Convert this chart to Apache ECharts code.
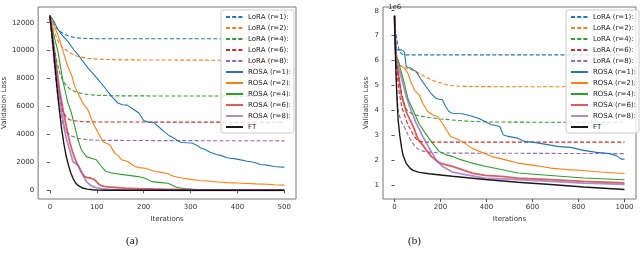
<!DOCTYPE html>
<html><head><meta charset="utf-8">
<script src="https://cdn.jsdelivr.net/npm/echarts@6/dist/echarts.min.js"></script>
<style>html,body{margin:0;padding:0;background:#fff}#c{width:640px;height:255px}</style>
</head><body><div id="c"></div>
<script>
// ---------- Panel (a) : iterations / validation loss ----------
const a_names = ["LoRA (r=1):","LoRA (r=2):","LoRA (r=4):","LoRA (r=6):","LoRA (r=8):","ROSA (r=1):","ROSA (r=2):","ROSA (r=4):","ROSA (r=6):","ROSA (r=8):","FT"];
const a_xTicks = [0,100,200,300,400,500];
const a_yTicks = [0,2000,4000,6000,8000,10000,12000];

const a_lora1_x = [0,5,10,15,20,30,40,50,60,80,100,150,200,300,400,500];
const a_lora1_y = [12500,12150,11850,11600,11420,11180,11040,10960,10910,10870,10855,10850,10850,10850,10850,10850];
const a_lora2_x = [0,5,10,17,25,38,50,60,80,100,150,300,500];
const a_lora2_y = [12500,11900,11300,10700,10300,9960,9700,9580,9450,9390,9340,9320,9300];
const a_lora4_x = [0,5,10,15,20,28,35,45,60,80,100,150,500];
const a_lora4_y = [12500,11200,10100,9200,8500,7800,7500,7200,6980,6860,6800,6760,6740];
const a_lora6_x = [0,5,10,15,20,28,35,42,60,80,100,500];
const a_lora6_y = [12500,10800,9300,8000,6900,5600,5250,5050,4930,4900,4890,4870];
const a_lora8_x = [0,5,10,15,20,25,30,35,45,60,80,100,200,500];
const a_lora8_y = [12500,10500,8700,7200,6000,5100,4500,4200,3900,3720,3620,3580,3560,3540];
const a_rosa1_x = [0,5,10,17,25,38,50,60,70,81,92,103,115,124,135,145,155,165,178,190,200,210,221,232,243,255,264,275,282,292,303,312,321,332,342,355,364,378,399,421,435,449,467,478,490,500];
const a_rosa1_y = [12500,12300,12000,11520,11150,10680,10100,9720,9250,8770,8350,7925,7450,7040,6600,6250,6130,6100,5800,5530,5000,4880,4860,4550,4215,3900,3740,3500,3425,3400,3380,3250,3050,2900,2720,2560,2500,2330,2230,2080,2010,1850,1780,1700,1670,1660];
const a_rosa2_x = [0,5,10,17,28,38,46,53,63,70,81,92,103,113,121,128,138,145,153,166,181,190,203,215,224,235,250,264,275,285,300,320,342,360,378,400,421,440,464,480,500];
const a_rosa2_y = [12500,12100,11700,11160,9960,8880,8280,7440,6730,6250,5770,4815,4095,3490,3350,3255,2660,2500,2180,2060,1700,1620,1580,1450,1340,1300,1200,1000,920,860,780,700,650,590,550,520,490,460,430,400,370];
const a_rosa4_x = [0,5,10,17,28,38,46,53,60,67,78,88,99,110,120,135,160,188,203,217,238,252,260,271,290,307,335,360,400,500];
const a_rosa4_y = [12500,11600,10900,9960,7800,6300,5530,4570,3615,2900,2410,2300,2180,1700,1340,1220,1100,980,860,620,550,500,380,200,110,70,30,15,8,5];
const a_rosa6_x = [0,5,10,15,20,28,35,42,48,53,58,63,68,74,80,88,95,99,106,115,131,160,188,220,252,300,350,400,500];
const a_rosa6_y = [12500,11200,9900,8600,7300,5770,4570,3490,2800,2300,1900,1580,1250,980,900,860,760,620,380,280,215,150,115,90,70,40,20,10,5];
const a_rosa8_x = [0,5,10,15,20,25,30,35,42,49,55,60,67,72,78,85,92,100,110,130,160,200,300,500];
const a_rosa8_y = [12500,11000,9500,8100,6800,5600,4600,3700,2900,2060,1900,1820,1340,1000,620,400,260,180,115,50,20,8,3,2];
const a_ft_x = [0,5,10,15,20,25,30,35,40,45,50,55,60,70,80,90,100,120,150,500];
const a_ft_y = [12500,11000,9200,7400,5800,4400,3300,2400,1750,1200,800,520,350,160,80,40,20,5,0,0];

// ---------- Panel (b) : values in units of 1e6 ----------
const b_xTicks = [0,200,400,600,800,1000];
const b_yTicks = [1,2,3,4,5,6,7,8];

const b_lora1_x = [0,3,6,10,15,20,25,35,50,100,1000];
const b_lora1_y = [7.8,7.4,7.1,6.85,6.6,6.42,6.32,6.25,6.23,6.23,6.23];
const b_lora2_x = [0,3,6,10,15,20,31,50,74,100,117,140,160,180,203,225,245,280,350,500,1000];
const b_lora2_y = [7.8,7.0,6.4,6.0,5.85,5.8,5.76,5.7,5.63,5.52,5.43,5.32,5.23,5.16,5.1,5.04,5.0,4.97,4.96,4.95,4.95];
const b_lora4_x = [0,5,10,20,30,40,50,60,80,100,150,200,300,400,600,1000];
const b_lora4_y = [7.8,6.6,5.9,5.2,4.75,4.35,4.05,3.95,3.85,3.8,3.72,3.66,3.58,3.54,3.53,3.53];
const b_lora6_x = [0,5,10,20,31,42,53,63,74,85,95,110,124,150,200,1000];
const b_lora6_y = [7.8,6.4,5.6,4.75,4.16,3.85,3.56,3.35,3.16,2.98,2.85,2.77,2.74,2.73,2.73,2.73];
const b_lora8_x = [0,5,10,17,30,45,60,74,88,103,120,138,170,250,1000];
const b_lora8_y = [7.8,5.9,4.8,3.9,3.55,3.3,3.0,2.76,2.58,2.46,2.38,2.34,2.31,2.29,2.27];
const b_rosa1_x = [0,4,8,15,30,40,44,51,60,73,94,105,116,137,158,180,195,208,222,237,251,270,294,330,365,394,422,440,458,465,472,494,536,565,608,665,708,765,822,879,936,964,986,1000];
const b_rosa1_y = [7.8,7.0,6.43,6.4,6.43,6.38,6.29,5.76,5.72,5.69,5.56,5.4,5.23,4.96,4.69,4.49,4.45,4.43,4.16,3.96,3.89,3.88,3.87,3.79,3.69,3.56,3.43,3.4,3.36,3.2,3.03,2.96,2.89,2.76,2.72,2.63,2.56,2.52,2.4,2.32,2.27,2.19,2.05,2.05];
const b_rosa2_x = [0,4,8,15,23,44,58,73,88,108,123,144,165,187,208,230,244,280,308,337,380,422,479,536,608,679,750,822,893,1000];
const b_rosa2_y = [7.8,6.8,6.29,6.0,5.83,5.69,5.5,5.1,4.8,4.62,4.29,3.96,3.83,3.76,3.49,3.16,2.96,2.83,2.67,2.49,2.32,2.16,2.03,1.89,1.8,1.69,1.63,1.59,1.53,1.47];
const b_rosa4_x = [0,4,8,17,23,45,51,60,80,108,137,165,194,222,250,280,337,394,465,536,679,822,1000];
const b_rosa4_y = [7.8,6.8,6.16,6.0,5.76,5.03,4.76,4.43,4.03,3.45,3.05,2.69,2.36,2.23,2.16,2.05,1.89,1.76,1.63,1.49,1.39,1.29,1.22];
const b_rosa6_x = [0,4,8,15,30,53,81,103,124,137,160,180,195,222,251,294,337,394,465,536,679,822,1000];
const b_rosa6_y = [7.8,6.6,5.9,5.6,4.6,3.9,3.36,2.83,2.6,2.43,2.16,2.0,1.9,1.83,1.76,1.63,1.49,1.4,1.36,1.29,1.23,1.16,1.1];
const b_rosa8_x = [0,4,8,23,51,66,94,123,151,180,208,251,308,394,536,679,822,1000];
const b_rosa8_y = [7.8,6.6,6.03,5.56,4.56,4.16,3.49,2.96,2.49,2.03,1.76,1.53,1.43,1.29,1.23,1.16,1.09,1.04];
const b_ft_x = [0,3,6,11,16,23,30,37,50,66,80,108,150,180,251,394,536,679,822,1000];
const b_ft_y = [7.8,6.6,5.6,4.43,3.6,3.0,2.55,2.2,1.9,1.7,1.6,1.52,1.46,1.43,1.36,1.23,1.12,1.03,0.93,0.83];

const colors = ['#1f77b4','#ff7f0e','#2ca02c','#d62728','#9467bd','#1f77b4','#ff7f0e','#2ca02c','#d62728','#9467bd','#000000'];

function zip(xs, ys){ return xs.map((x,i)=>[x, ys[i]]); }
function styleFor(i){
  if (i < 5) return {color: colors[i], width: 1.1, type: [4, 2.2], opacity: 1};
  if (i === 8 || i === 9) return {color: colors[i], width: 1.8, type: 'solid', opacity: 0.75};
  if (i === 10) return {color: colors[i], width: 1.4, type: 'solid', opacity: 0.9};
  return {color: colors[i], width: 1.1, type: 'solid', opacity: 1};
}
const aData = [[a_lora1_x,a_lora1_y],[a_lora2_x,a_lora2_y],[a_lora4_x,a_lora4_y],[a_lora6_x,a_lora6_y],[a_lora8_x,a_lora8_y],
  [a_rosa1_x,a_rosa1_y],[a_rosa2_x,a_rosa2_y],[a_rosa4_x,a_rosa4_y],[a_rosa6_x,a_rosa6_y],[a_rosa8_x,a_rosa8_y],[a_ft_x,a_ft_y]];
const bData = [[b_lora1_x,b_lora1_y],[b_lora2_x,b_lora2_y],[b_lora4_x,b_lora4_y],[b_lora6_x,b_lora6_y],[b_lora8_x,b_lora8_y],
  [b_rosa1_x,b_rosa1_y],[b_rosa2_x,b_rosa2_y],[b_rosa4_x,b_rosa4_y],[b_rosa6_x,b_rosa6_y],[b_rosa8_x,b_rosa8_y],[b_ft_x,b_ft_y]];

const series = [];
[aData, bData].forEach((set, g) => {
  set.forEach((d, i) => {
    const ls = styleFor(i);
    series.push({
      type: 'line', name: a_names[i], xAxisIndex: g, yAxisIndex: g,
      data: zip(d[0], d[1]), symbol: 'none', showSymbol: false, animation: false,
      itemStyle: {color: ls.color, opacity: ls.opacity},
      lineStyle: ls, emphasis: {disabled: true}
    });
  });
});

const FONT = 'DejaVu Sans';
const fmt = v => String(v);
const tickLbl = {fontSize: 7, color: '#333', fontFamily: FONT, formatter: fmt};
function xAx(g, min, max, ticks){
  return {type:'value', gridIndex:g, min:min, max:max, splitLine:{show:false},
    axisLine:{show:false}, axisTick:{show:true, length:3, lineStyle:{color:'#555'}, customValues:ticks},
    axisLabel:Object.assign({margin:5, customValues:ticks}, tickLbl),
    name:'Iterations', nameLocation:'middle', nameGap:14, nameTextStyle:{fontSize:7, color:'#333', fontFamily:FONT}};
}
function yAx(g, min, max, ticks, gap){
  return {type:'value', gridIndex:g, min:min, max:max, splitLine:{show:false},
    axisLine:{show:false}, axisTick:{show:true, length:3, lineStyle:{color:'#555'}, customValues:ticks},
    axisLabel:Object.assign({margin:4, customValues:ticks}, tickLbl),
    name:'Validation Loss', nameLocation:'middle', nameGap:gap, nameTextStyle:{fontSize:7, color:'#333', fontFamily:FONT}};
}
const legendCommon = {orient:'vertical', top:10, itemWidth:17, itemHeight:8, itemGap:3,
  padding:[3,3,2,4], backgroundColor:'rgba(255,255,255,0.8)', borderColor:'#ccc', borderWidth:1, borderRadius:2,
  itemStyle:{color:'transparent', borderColor:'transparent', borderWidth:0, opacity:0},
  textStyle:{fontSize:7, color:'#222', fontFamily:FONT, lineHeight:8}, data:a_names, selectedMode:false};

const chart = echarts.init(document.getElementById('c'), null, {renderer:'canvas'});
chart.setOption({
  animation:false,
  title:{text:'1e6', left:383, top:-1, textStyle:{fontSize:7, fontWeight:'normal', color:'#333', fontFamily:FONT}},
  grid:[
    {left:38, top:7, width:258, height:192, show:true, borderColor:'#777', borderWidth:1, backgroundColor:'transparent'},
    {left:383, top:7, width:253, height:192, show:true, borderColor:'#777', borderWidth:1, backgroundColor:'transparent'}
  ],
  xAxis:[xAx(0,-25,525,a_xTicks), xAx(1,-50,1050,b_xTicks)],
  yAxis:[yAx(0,-625,13125,a_yTicks,28), yAx(1,0.45,8.15,b_yTicks,13)],
  legend:[Object.assign({left:221}, legendCommon), Object.assign({left:566}, legendCommon)],
  graphic:[
    {type:'text', left:126, top:236, style:{text:'(a)', font:'11px "Liberation Serif"', fill:'#111'}},
    {type:'text', left:408, top:236, style:{text:'(b)', font:'11px "Liberation Serif"', fill:'#111'}}
  ],
  series: series
});
</script></body></html>
